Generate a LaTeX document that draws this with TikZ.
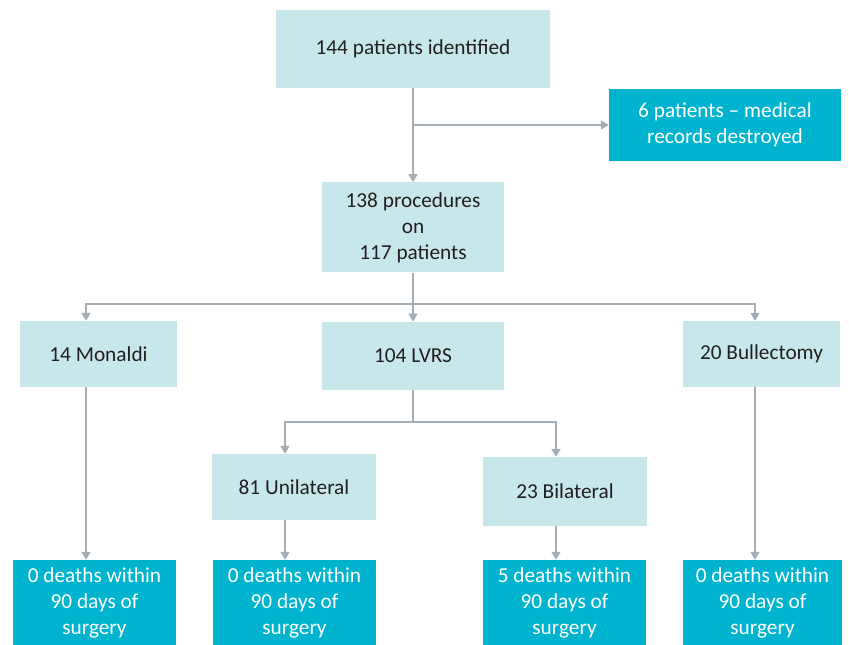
\documentclass[tikz,border=0pt]{standalone}
\usepackage{fontspec}
\setmainfont{Carlito}
\usetikzlibrary{arrows.meta, positioning}
\definecolor{boxlight}{RGB}{200,231,235}
\definecolor{boxdark}{RGB}{0,180,208}
\definecolor{linegrey}{RGB}{165,173,181}
\definecolor{textdark}{RGB}{35,31,32}
\tikzset{
  lightbox/.style={rectangle, fill=boxlight, text=textdark, align=center,
    inner sep=0pt, font=\fontsize{21.3}{26}\selectfont},
  darkbox/.style={rectangle, fill=boxdark, text=white, align=center,
    inner sep=0pt, font=\fontsize{21.3}{26}\selectfont},
  outbox/.style={darkbox, minimum width=163pt, minimum height=85pt},
  arrow/.style={-{Triangle[width=9pt,length=8pt]}, line width=1.6pt, color=linegrey},
  line/.style={line width=1.6pt, color=linegrey}
}
\begin{document}
\begin{tikzpicture}[x=1pt, y=-1pt]
  \useasboundingbox (0,0) rectangle (849,645);

  % Top of the chart
  \node[lightbox, minimum width=274pt, minimum height=78pt] (ident) at (413,49) {144 patients identified};
  \node[darkbox, minimum width=232pt, minimum height=72pt] (destroyed) at (725,125) {6 patients -- medical\\records destroyed};
  \node[lightbox, minimum width=182pt, minimum height=90pt, below=94pt of ident] (proc) {138 procedures\\on\\117 patients};

  % Procedure types
  \node[lightbox, minimum width=157pt, minimum height=66pt] (mon) at (98.5,354) {14 Monaldi};
  \node[lightbox, minimum width=182pt, minimum height=68pt, below=49pt of proc] (lvrs) {104 LVRS};
  \node[lightbox, minimum width=157pt, minimum height=66pt] (bull) at (761.5,354) {20 Bullectomy};
  \node[lightbox, minimum width=164pt, minimum height=66pt] (uni) at (294,487) {81 Unilateral};
  \node[lightbox, minimum width=164pt, minimum height=69pt] (bil) at (565,491.5) {23 Bilateral};

  % Outcomes
  \node[outbox] (monout) at (94.5,602.5) {0 deaths within\\90 days of\\surgery};
  \node[outbox] (uniout) at (294.5,602.5) {0 deaths within\\90 days of\\surgery};
  \node[outbox] (bilout) at (564.5,602.5) {5 deaths within\\90 days of\\surgery};
  \node[outbox, minimum width=159pt] (bullout) at (762.5,602.5) {0 deaths within\\90 days of\\surgery};

  % Paths
  \coordinate (fork) at (413,304);
  \coordinate[below=32pt of lvrs.south] (lfork);
  \draw[arrow] (ident.south) -- (proc.north);
  \draw[arrow] (ident.south |- destroyed.west) -- (destroyed.west);
  \draw[arrow] (proc.south) -- (lvrs.north);
  \draw[arrow] (fork) -| ([xshift=-12.5pt]mon.north);
  \draw[arrow] (fork) -| ([xshift=-6.5pt]bull.north);
  \draw[line] (lvrs.south) -- (lfork);
  \draw[arrow] (lfork) -| ([xshift=-9pt]uni.north);
  \draw[arrow] (lfork) -| ([xshift=-9pt]bil.north);
  \draw[arrow] ([xshift=-12.5pt]mon.south) -- ([xshift=-8.5pt]monout.north);
  \draw[arrow] ([xshift=-9pt]uni.south) -- ([xshift=-9.5pt]uniout.north);
  \draw[arrow] ([xshift=-9pt]bil.south) -- ([xshift=-8.5pt]bilout.north);
  \draw[arrow] ([xshift=-6.5pt]bull.south) -- ([xshift=-7.5pt]bullout.north);
\end{tikzpicture}
\end{document}
